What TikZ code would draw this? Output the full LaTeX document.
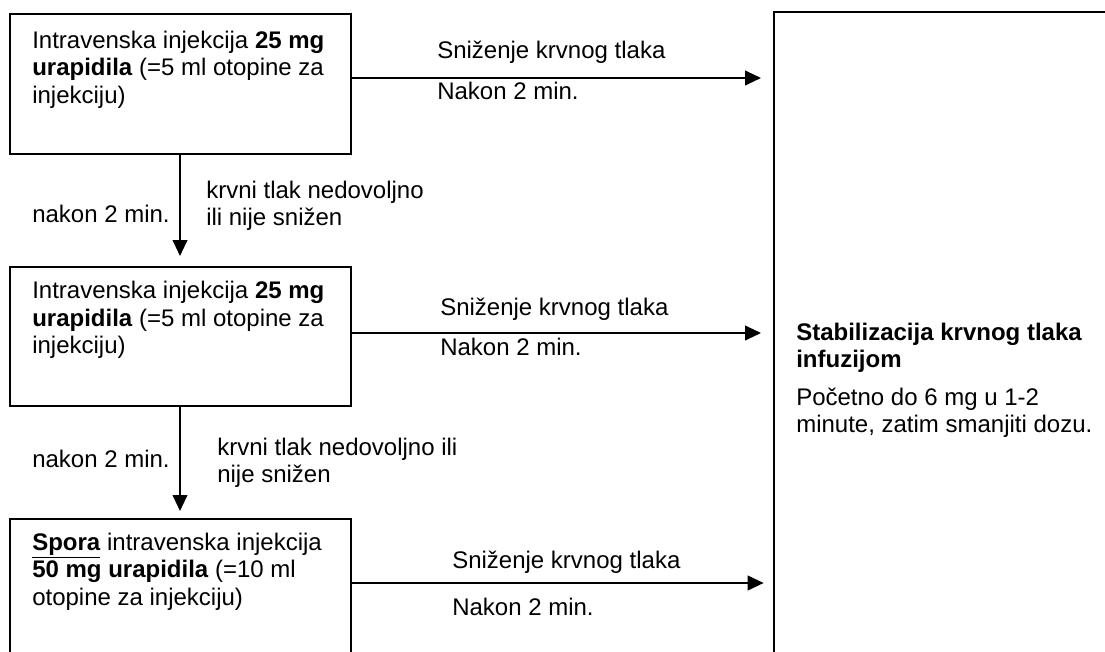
\documentclass[tikz,border=0pt]{standalone}
\usepackage{fontspec}
\setmainfont{Liberation Sans}
\usetikzlibrary{arrows.meta,fit}
\tikzset{
  boxed/.style={draw, line width=1.5pt, inner sep=0pt},
  txt/.style={anchor=north west, inner sep=0pt, align=left, font=\fontsize{18}{20.6}\selectfont},
  lbl/.style={anchor=base west, inner sep=0pt, font=\fontsize{18}{20.6}\selectfont},
  arr/.style={line width=1.5pt, -{Triangle[length=12pt,width=11pt]}}
}
\begin{document}
\begin{tikzpicture}[x=0.75pt,y=-0.75pt]
\useasboundingbox (0,0) rectangle (1105,652);
\clip (0,0) rectangle (1105,652);

% boxes
\node[boxed, fit={(10,14) (351,154)}] (b1) {};
\node[boxed, fit={(10,267) (351,406)}] (b2) {};
\node[boxed, fit={(10,519) (351,700)}] (b3) {};
\node[boxed, fit={(774,12) (1150,700)}] (R) {};

% box texts
\node[txt] (t1) at (32,30.5) {Intravenska injekcija \textbf{25 mg}\\\textbf{urapidila} (=5 ml otopine za\\injekciju)};
\node[txt] (t2) at (32,281) {Intravenska injekcija \textbf{25 mg}\\\textbf{urapidila} (=5 ml otopine za\\injekciju)};
\node[txt] (t3) at (32,532.5) {\underline{\textbf{Spora}} intravenska injekcija\\\textbf{50 mg urapidila} (=10 ml\\otopine za injekciju)};
\node[txt] (tR) at (796,322.5) {\textbf{Stabilizacija krvnog tlaka}\\\textbf{infuzijom}\\[7.5pt]Početno do 6 mg u 1-2\\minute, zatim smanjiti dozu.};

% arrow levels
\coordinate (h1) at (0,78);
\coordinate (h2) at (0,333);
\coordinate (h3) at (0,583);
\coordinate (vx) at (180,0);

% horizontal arrows
\draw[arr, shorten >=9pt] (b1.east |- h1) -- (R.west |- h1);
\draw[arr, shorten >=9pt] (b2.east |- h2) -- (R.west |- h2);
\draw[arr, shorten >=7pt] (b3.east |- h3) -- (R.west |- h3);

% vertical arrows
\draw[arr, shorten >=7.5pt] (b1.south -| vx) -- (b2.north -| vx);
\draw[arr, shorten >=5.25pt] (b2.south -| vx) -- (b3.north -| vx);

% horizontal labels
\node[lbl] (s1) at (437,59) {Sniženje krvnog tlaka};
\node[lbl] (n1) at (437,100) {Nakon 2 min.};
\node[lbl] (s2) at (440,315) {Sniženje krvnog tlaka};
\node[lbl] (n2) at (440,355) {Nakon 2 min.};
\node[lbl] (s3) at (452,568) {Sniženje krvnog tlaka};
\node[lbl] (n3) at (452,615) {Nakon 2 min.};

% vertical labels
\node[lbl] (v1a) at (32,223) {nakon 2 min.};
\node[txt] (v1b) at (206,180.5) {krvni tlak nedovoljno\\ili nije snižen};
\node[lbl] (v2a) at (32,467) {nakon 2 min.};
\node[txt] (v2b) at (217,437.5) {krvni tlak nedovoljno ili\\nije snižen};
\end{tikzpicture}
\end{document}
